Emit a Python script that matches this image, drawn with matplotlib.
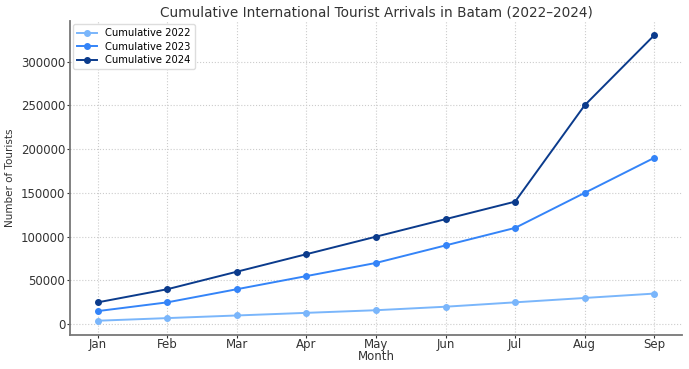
import matplotlib.pyplot as plt

months = ['Jan', 'Feb', 'Mar', 'Apr', 'May', 'Jun', 'Jul', 'Aug', 'Sep']
cum_2022 = [4000, 7000, 10000, 13000, 16000, 20000, 25000, 30000, 35000]
cum_2023 = [15000, 25000, 40000, 55000, 70000, 90000, 110000, 150000, 190000]
cum_2024 = [25000, 40000, 60000, 80000, 100000, 120000, 140000, 250000, 330000]

fig = plt.figure(figsize=(6.89, 3.69), dpi=100)
ax = fig.add_axes([70/689, 34/369, 612/689, 314/369])

x = range(len(months))
ax.plot(x, cum_2022, marker='o', markersize=4, lw=1.4, color='#7ab6fb', label='Cumulative 2022')
ax.plot(x, cum_2023, marker='o', markersize=4, lw=1.4, color='#3484f8', label='Cumulative 2023')
ax.plot(x, cum_2024, marker='o', markersize=4, lw=1.4, color='#0b3b8c', label='Cumulative 2024')

ax.set_xticks(list(x))
ax.set_xticklabels(months)
ax.set_xlim(-0.4, 8.4)
ax.set_title('Cumulative International Tourist Arrivals in Batam (2022–2024)', fontsize=9.8, color='#333333', pad=3)
ax.set_xlabel('Month', fontsize=8.5, color='#333333', labelpad=-1)
ax.set_ylabel('Number of Tourists', fontsize=7.5, color='#333333', labelpad=4)
ax.tick_params(labelsize=8.5, colors='#333333', length=2, pad=1.5)
ax.tick_params(axis='x', pad=0.5)
ax.grid(True, linestyle=':', color='#cccccc', linewidth=0.8)
for s in ['top', 'right']:
    ax.spines[s].set_visible(False)
for s in ['left', 'bottom']:
    ax.spines[s].set_color('#777777')
    ax.spines[s].set_linewidth(1.3)
ax.legend(loc='upper left', fontsize=7.2, frameon=True, framealpha=1, edgecolor='#dddddd',
          labelspacing=0.35, borderaxespad=0.3)

plt.savefig('out.png')
